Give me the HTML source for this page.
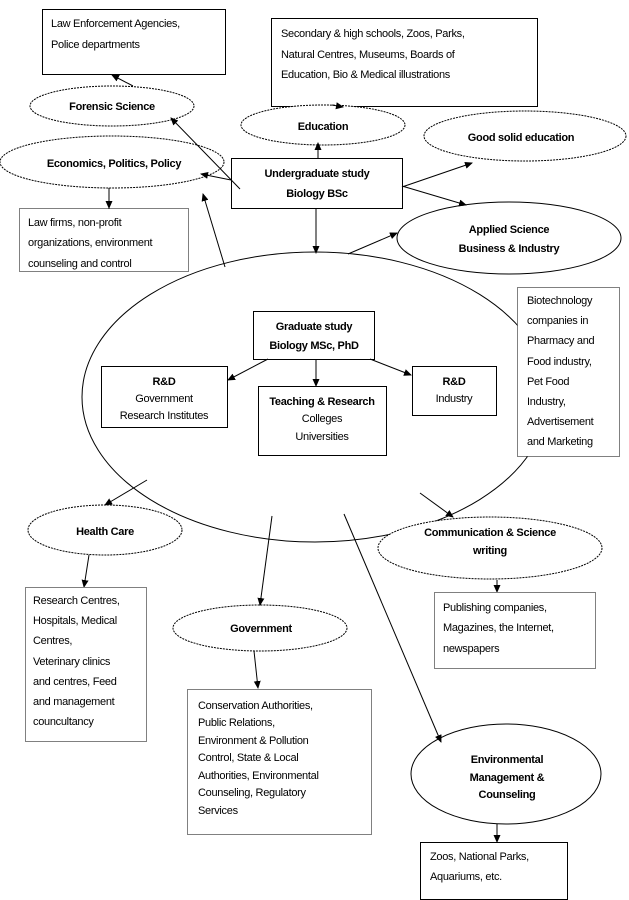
<!DOCTYPE html>
<html><head><meta charset="utf-8"><style>
html,body{margin:0;padding:0;background:#fff}
svg{display:block}
text{font-family:"Liberation Sans",sans-serif;font-size:11px;letter-spacing:-0.3px;fill:#000}
.b{font-weight:bold;font-size:11px;letter-spacing:-0.3px}
</style></head><body>
<svg width="629" height="900" viewBox="0 0 629 900" xmlns="http://www.w3.org/2000/svg">
<defs><marker id="a" markerWidth="8" markerHeight="8" refX="7" refY="4" orient="auto" markerUnits="userSpaceOnUse"><path d="M0,0.5 L8,4 L0,7.5z" fill="#000"/></marker></defs>
<g fill="#fff" stroke="#000" stroke-width="1">
<rect x="42.5" y="9.5" width="183" height="65"/>
<rect x="271.5" y="18.5" width="266" height="88"/>
<rect x="231.5" y="158.5" width="171" height="50"/>
<rect x="19.5" y="208.5" width="169" height="63" stroke-dasharray="1,1"/>
<ellipse cx="112" cy="106" rx="82" ry="20" stroke-dasharray="2,1"/>
<ellipse cx="323" cy="125" rx="82" ry="20" stroke-dasharray="2,1"/>
<ellipse cx="525" cy="136" rx="101" ry="25" stroke-dasharray="2,1"/>
<ellipse cx="112" cy="162" rx="112" ry="26" stroke-dasharray="2,1"/>
<ellipse cx="509" cy="238" rx="112" ry="36"/>
<ellipse cx="315" cy="397" rx="233" ry="145"/>
<rect x="517.5" y="287.5" width="102" height="169" stroke-dasharray="1,1"/>
<rect x="253.5" y="311.5" width="121" height="48"/>
<rect x="101.5" y="366.5" width="126" height="61"/>
<rect x="258.5" y="386.5" width="128" height="69"/>
<rect x="412.5" y="366.5" width="84" height="49"/>
<ellipse cx="105" cy="530" rx="77" ry="25" stroke-dasharray="2,1"/>
<rect x="25.5" y="587.5" width="121" height="154" stroke-dasharray="1,1"/>
<ellipse cx="490" cy="548" rx="112" ry="31" stroke-dasharray="2,1"/>
<rect x="434.5" y="592.5" width="161" height="76" stroke-dasharray="1,1"/>
<ellipse cx="260" cy="628" rx="87" ry="23" stroke-dasharray="2,1"/>
<rect x="187.5" y="689.5" width="184" height="145" stroke-dasharray="1,1"/>
<ellipse cx="506" cy="774" rx="95" ry="50"/>
<rect x="420.5" y="842.5" width="147" height="57"/>
</g>
<g stroke="#000" stroke-width="1" fill="none" marker-end="url(#a)">
<line x1="133" y1="86" x2="112" y2="75"/>
<line x1="332" y1="105" x2="343" y2="107"/>
<line x1="240" y1="189" x2="171" y2="118"/>
<line x1="231" y1="180" x2="201" y2="174"/>
<line x1="225" y1="267" x2="203" y2="194"/>
<line x1="318" y1="158" x2="318" y2="143"/>
<line x1="316" y1="208" x2="316" y2="253"/>
<line x1="402" y1="187" x2="472" y2="163"/>
<line x1="402" y1="186" x2="466" y2="205"/>
<line x1="348" y1="254" x2="397" y2="233"/>
<line x1="109" y1="188" x2="109" y2="208"/>
<line x1="268" y1="359" x2="228" y2="380"/>
<line x1="316" y1="359" x2="316" y2="386"/>
<line x1="370" y1="359" x2="411" y2="375"/>
<line x1="147" y1="480" x2="105" y2="505"/>
<line x1="272" y1="516" x2="260" y2="605"/>
<line x1="344" y1="514" x2="441" y2="742"/>
<line x1="420" y1="493" x2="453" y2="517"/>
<line x1="89" y1="555" x2="84" y2="587"/>
<line x1="254" y1="651" x2="258" y2="688"/>
<line x1="497" y1="580" x2="497" y2="592"/>
<line x1="497" y1="824" x2="497" y2="842"/>
</g>
<text x="51" y="27">Law Enforcement Agencies,</text>
<text x="51" y="48">Police departments</text>
<text x="281" y="37">Secondary &amp; high schools, Zoos, Parks,</text>
<text x="281" y="58">Natural Centres, Museums, Boards of</text>
<text x="281" y="78">Education, Bio &amp; Medical illustrations</text>
<text class="b" x="112" y="110" text-anchor="middle">Forensic Science</text>
<text class="b" x="323" y="130" text-anchor="middle">Education</text>
<text class="b" x="521" y="141" text-anchor="middle">Good solid education</text>
<text class="b" x="114" y="167" text-anchor="middle">Economics, Politics, Policy</text>
<text class="b" x="317" y="177" text-anchor="middle">Undergraduate study</text>
<text class="b" x="317" y="197" text-anchor="middle">Biology BSc</text>
<text x="28" y="226">Law firms, non-profit</text>
<text x="28" y="246">organizations, environment</text>
<text x="28" y="267">counseling and control</text>
<text class="b" x="509" y="233" text-anchor="middle">Applied Science</text>
<text class="b" x="509" y="252" text-anchor="middle">Business &amp; Industry</text>
<text x="527" y="304">Biotechnology</text>
<text x="527" y="324">companies in</text>
<text x="527" y="344">Pharmacy and</text>
<text x="527" y="365">Food industry,</text>
<text x="527" y="385">Pet Food</text>
<text x="527" y="405">Industry,</text>
<text x="527" y="425">Advertisement</text>
<text x="527" y="445">and Marketing</text>
<text class="b" x="314" y="330" text-anchor="middle">Graduate study</text>
<text class="b" x="314" y="349" text-anchor="middle">Biology MSc, PhD</text>
<text class="b" x="164" y="385" text-anchor="middle">R&amp;D</text>
<text x="164" y="402" text-anchor="middle">Government</text>
<text x="164" y="419" text-anchor="middle">Research Institutes</text>
<text class="b" x="322" y="405" text-anchor="middle">Teaching &amp; Research</text>
<text x="322" y="422" text-anchor="middle">Colleges</text>
<text x="322" y="440" text-anchor="middle">Universities</text>
<text class="b" x="454" y="385" text-anchor="middle">R&amp;D</text>
<text x="454" y="402" text-anchor="middle">Industry</text>
<text class="b" x="105" y="535" text-anchor="middle">Health Care</text>
<text class="b" x="490" y="536" text-anchor="middle">Communication &amp; Science</text>
<text class="b" x="490" y="554" text-anchor="middle">writing</text>
<text x="33" y="604">Research Centres,</text>
<text x="33" y="624">Hospitals, Medical</text>
<text x="33" y="644">Centres,</text>
<text x="33" y="665">Veterinary clinics</text>
<text x="33" y="685">and centres, Feed</text>
<text x="33" y="705">and management</text>
<text x="33" y="725">councultancy</text>
<text x="443" y="611">Publishing companies,</text>
<text x="443" y="631">Magazines, the Internet,</text>
<text x="443" y="652">newspapers</text>
<text class="b" x="261" y="632" text-anchor="middle">Government</text>
<text x="198" y="709">Conservation Authorities,</text>
<text x="198" y="726">Public Relations,</text>
<text x="198" y="744">Environment &amp; Pollution</text>
<text x="198" y="761">Control, State &amp; Local</text>
<text x="198" y="779">Authorities, Environmental</text>
<text x="198" y="796">Counseling, Regulatory</text>
<text x="198" y="814">Services</text>
<text class="b" x="507" y="763" text-anchor="middle">Environmental</text>
<text class="b" x="507" y="781" text-anchor="middle">Management &amp;</text>
<text class="b" x="507" y="798" text-anchor="middle">Counseling</text>
<text x="430" y="860">Zoos, National Parks,</text>
<text x="430" y="880">Aquariums, etc.</text>
</svg>
</body></html>
